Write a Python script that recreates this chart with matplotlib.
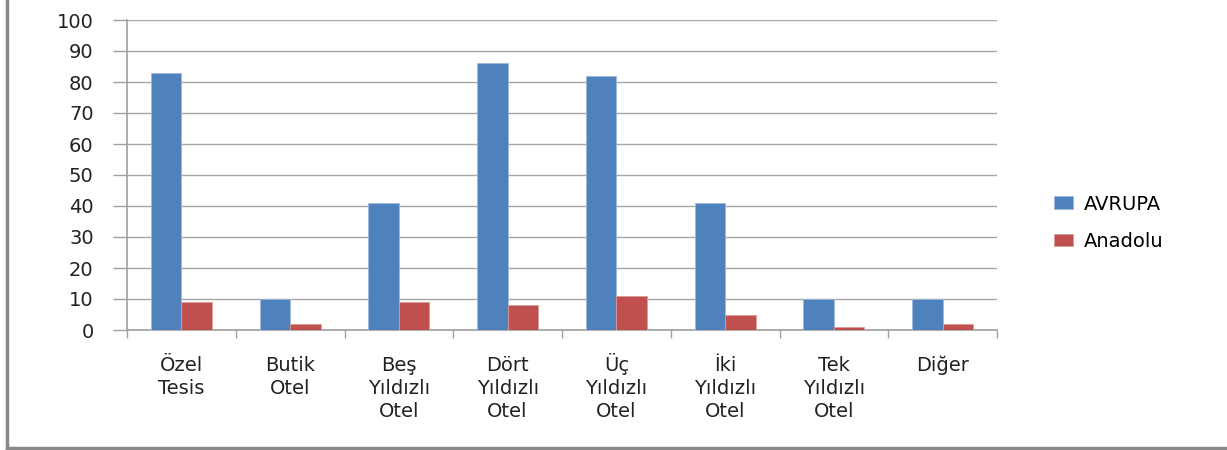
import matplotlib.pyplot as plt
import numpy as np
from matplotlib.lines import Line2D

kategoriler = ['Özel\nTesis', 'Butik\nOtel', 'Beş\nYıldızlı\nOtel', 'Dört\nYıldızlı\nOtel',
               'Üç\nYıldızlı\nOtel', 'İki\nYıldızlı\nOtel', 'Tek\nYıldızlı\nOtel', 'Diğer']
avrupa = [83, 10, 41, 86, 82, 41, 10, 10]
anadolu = [9, 2, 9, 8, 11, 5, 1, 2]

plt.rcParams['font.family'] = 'DejaVu Sans'
fs = 14
fig = plt.figure(figsize=(12.27, 4.5), dpi=100)
ax = fig.add_axes([127/1227, 1-330/450, (997-127)/1227, 310/450])

x = np.arange(len(kategoriler))
w = 0.28
ax.bar(x - w/2, avrupa, w, color='#4F81BD', edgecolor='#9db8dc', linewidth=0.6, label='AVRUPA', zorder=3)
ax.bar(x + w/2, anadolu, w, color='#C0504D', edgecolor='#dc9b99', linewidth=0.6, label='Anadolu', zorder=3)

ax.set_xlim(-0.5, len(kategoriler) - 0.5)
ax.set_ylim(0, 100)
ax.set_yticks(range(0, 101, 10))
ax.grid(axis='y', color='#a6a6a6', linewidth=1, zorder=0)

# etiketler satir satir (hizalama bozulmasin diye)
ax.set_xticks(x)
ax.set_xticklabels([])
ax.tick_params(axis='x', which='major', length=0)
for i, k in enumerate(kategoriler):
    for j, satir in enumerate(k.split('\n')):
        ax.annotate(satir, xy=(i, 0), xycoords=('data', 'axes fraction'),
                    xytext=(0, -29.5 - j*16.6), textcoords='offset points',
                    ha='center', va='baseline', fontsize=fs, color='#222222')

ax.set_xticks(np.arange(len(kategoriler) + 1) - 0.5, minor=True)
ax.tick_params(axis='x', which='minor', length=6, color='#a0a0a0', width=1)
ax.tick_params(axis='y', length=10, color='#a0a0a0', width=1, labelsize=fs, labelcolor='#222222', pad=14)

for s in ['top', 'right']:
    ax.spines[s].set_visible(False)
for s in ['left', 'bottom']:
    ax.spines[s].set_color('#a0a0a0')
    ax.spines[s].set_linewidth(1.2)

fig.legend(loc='center left', bbox_to_anchor=(1036/1227, 0.505), frameon=False, fontsize=fs,
           labelspacing=0.95, handlelength=1.0, handleheight=0.6, handletextpad=0.55)

# ramka
fig.add_artist(Line2D([7/1227, 7/1227], [2/450, 1], color='#888888', linewidth=2.5))
fig.add_artist(Line2D([7/1227, 1], [2/450, 2/450], color='#888888', linewidth=2.5))

plt.savefig('out.png')
